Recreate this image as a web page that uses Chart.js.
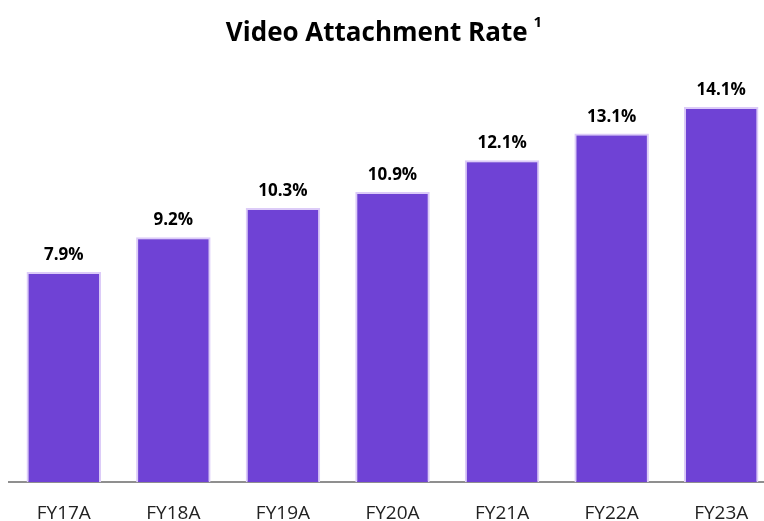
<!DOCTYPE html>
<html>
<head>
<meta charset="utf-8">
<script src="https://cdn.jsdelivr.net/npm/chart.js@4"></script>
<style>
  html, body { margin: 0; padding: 0; background: #fff; overflow: hidden; }
  #wrap { position: relative; width: 764px; height: 521px; overflow: hidden; }
  #title { position: absolute; left: 0; top: 13px; width: 768px; text-align: center;
    font-family: "Open Sans", sans-serif; font-weight: bold; font-size: 26px; color: #000; }
  #title sup { font-size: 15px; position: relative; top: -4px; margin-left: 6px; }
  canvas { position: absolute; left: 0; top: 0; }
</style>
</head>
<body>
<div id="wrap">
  <canvas id="rateGraph" width="780" height="521" style="width:780px;height:521px"></canvas>
  <div id="title">Video Attachment Rate<sup>1</sup></div>
</div>
<script>
// tasa de adjuncion de video por anio fiscal
var years = ["FY17A", "FY18A", "FY19A", "FY20A", "FY21A", "FY22A", "FY23A"];
var rates = [7.9, 9.2, 10.3, 10.9, 12.1, 13.1, 14.1];

// etiquetas encima de cada barra
var valueLabels = {
  id: 'valueLabels',
  afterDatasetsDraw: function(chart) {
    var ctx = chart.ctx;
    var meta = chart.getDatasetMeta(0);
    ctx.save();
    ctx.font = 'bold 17px "Open Sans", sans-serif';
    ctx.fillStyle = '#000';
    ctx.textAlign = 'center';
    ctx.textBaseline = 'alphabetic';
    for (var i = 0; i < meta.data.length; i++) {
      var bar = meta.data[i];
      ctx.fillText(rates[i].toFixed(1) + '%', bar.x, bar.y - 12);
    }
    ctx.restore();
  }
};

var ctx = document.getElementById("rateGraph").getContext('2d');
var myChart = new Chart(ctx, {
  type: 'bar',
  data: {
    labels: years,
    datasets: [{
      data: rates,
      backgroundColor: "#6f42d5",
      borderColor: "#dccbf8",
      borderWidth: 2,
      borderSkipped: 'bottom',
      barPercentage: 0.68,
      categoryPercentage: 1
    }]
  },
  options: {
    responsive: false,
    animation: false,
    layout: { padding: { left: 9, right: 4, top: 83, bottom: -24 } },
    plugins: { legend: { display: false }, tooltip: { enabled: false } },
    scales: {
      y: { display: false, min: 0, max: 15 },
      x: {
        grid: { display: false, drawTicks: false },
        border: { display: true, color: "#8f8f8f", width: 2 },
        ticks: { color: "#222", padding: 20, font: { family: "Open Sans", size: 19 } }
      }
    }
  },
  plugins: [valueLabels]
});
</script>
</body>
</html>
